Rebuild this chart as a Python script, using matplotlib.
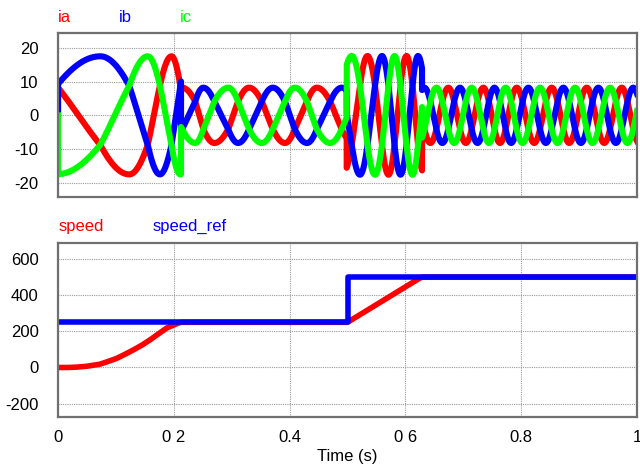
import numpy as np
import matplotlib
matplotlib.use("Agg")
import matplotlib.pyplot as plt

# ---------------- data ----------------
# electrical angle (deg) of the stator current vector at readable events
# (peaks / troughs of the phase currents), one list per operating segment
seg1_t = [0.0, 0.073, 0.123, 0.155, 0.176, 0.196, 0.2125]
seg1_deg = [62, 120, 180, 240, 300, 360, 425]
seg2_t = [0.2125, 0.237, 0.251, 0.270, 0.294, 0.311, 0.330, 0.352, 0.371,
          0.392, 0.409, 0.430, 0.447, 0.470, 0.490, 0.4986]
seg2_deg = [355, 420, 480, 540, 600, 660, 720, 780, 840, 900, 960, 1020,
            1080, 1140, 1200, 1226]
seg3_t = [0.4986, 0.5073, 0.5216, 0.5345, 0.5475, 0.5596, 0.5708, 0.5812,
          0.5915, 0.6019, 0.6123, 0.6218, 0.6287]
seg3_deg = [1288, 1320, 1380, 1440, 1500, 1560, 1620, 1680, 1740, 1800,
            1860, 1920, 1958]
seg4_t = [0.6287, 0.6741, 0.7346, 0.7922, 0.8527, 0.9131, 0.9736, 1.0]
seg4_deg = [1896, 2160, 2520, 2880, 3240, 3600, 3960, 4119]
seg_amp = [17.5, 8.2, 17.6, 8.2]          # current amplitude per segment (A)

speed_t = [0, 0.016, 0.032, 0.05, 0.072, 0.086, 0.101, 0.115, 0.130, 0.145,
           0.159, 0.173, 0.188, 0.208, 0.213, 0.5, 0.501, 0.625, 0.63, 1.0]
speed_v = [0, 0, 2, 7, 18, 33, 50, 72, 97, 124, 153, 185, 219, 246, 250,
           250, 252, 495, 500, 500]
speed_ref_t = [0, 0.5, 0.5, 1.0]
speed_ref_v = [250, 250, 500, 500]

current_labels = ["ia", "ib", "ic"]
speed_labels = ["speed", "speed_ref"]
x_ticks = [0, 0.2, 0.4, 0.6, 0.8, 1.0]
x_ticklabels = ["0", "0 2", "0.4", "0 6", "0.8", "1"]
y1_ticks = [-20, -10, 0, 10, 20]
y2_ticks = [-200, 0, 200, 400, 600]

# ---------------- build currents ----------------
segs = [(seg1_t, seg1_deg), (seg2_t, seg2_deg), (seg3_t, seg3_deg), (seg4_t, seg4_deg)]
tt = [np.array([0.0])]
ia = [np.array([0.0])]
ib = [np.array([0.0])]
ic = [np.array([0.0])]
for (st, sd), amp in zip(segs, seg_amp):
    ts = np.linspace(st[0], st[-1], 3000)
    th = np.deg2rad(np.interp(ts, st, sd))
    tt.append(ts)
    ia.append(amp * np.cos(th))
    ib.append(amp * np.cos(th - 2 * np.pi / 3))
    ic.append(amp * np.cos(th + 2 * np.pi / 3))
tt = np.concatenate(tt); ia = np.concatenate(ia)
ib = np.concatenate(ib); ic = np.concatenate(ic)

# ---------------- figure ----------------
plt.rcParams['font.family'] = ['Liberation Sans', 'DejaVu Sans']
fig = plt.figure(figsize=(6.4, 4.66), dpi=100)
ax1 = fig.add_axes([58 / 640, 1 - 197 / 466, 579 / 640, 164 / 466])
ax2 = fig.add_axes([58 / 640, 1 - 417 / 466, 579 / 640, 174 / 466])

RED, BLUE, GREEN = "#ff0000", "#0000ff", "#00ff00"
lw1 = 4.4
lw2 = 4.0
ax1.plot(tt, ia, color=RED, lw=lw1, solid_joinstyle='round')
ax1.plot(tt, ib, color=BLUE, lw=lw1, solid_joinstyle='round')
ax1.plot(tt, ic, color=GREEN, lw=lw1, solid_joinstyle='round')
ax2.plot(speed_t, speed_v, color=RED, lw=lw2)
ax2.plot(speed_ref_t, speed_ref_v, color=BLUE, lw=lw2)

ax1.set_ylim(-24.2, 24.4)
ax2.set_ylim(-274, 689)
for ax, yt in ((ax1, y1_ticks), (ax2, y2_ticks)):
    ax.set_xlim(0, 1)
    ax.set_xticks(x_ticks)
    ax.set_yticks(yt)
    ax.set_yticklabels([str(v) for v in yt])
    ax.grid(True, color="#9a9a9a", lw=0.8, ls=(0, (1, 1)))
    ax.tick_params(length=0, labelsize=12, colors="black")
    ax.tick_params(axis='y', pad=14)
    ax.tick_params(axis='x', pad=9)
    for s in ax.spines.values():
        s.set_color("#707070")
        s.set_linewidth(1.6)
        s.set_zorder(5)
ax1.set_xticklabels([])
ax2.set_xticklabels(x_ticklabels)
ax2.set_xlabel("Time (s)", fontsize=12, labelpad=3)

# series labels
for lab, col, x in zip(current_labels, [RED, BLUE, GREEN], [58, 119, 180]):
    fig.text(x / 640, 1 - 21.7 / 466, lab, color=col, fontsize=12, va='baseline')
for lab, col, x in zip(speed_labels, [RED, BLUE], [59, 153]):
    fig.text(x / 640, 1 - 230.7 / 466, lab, color=col, fontsize=12, va='baseline')

fig.savefig("out.png", dpi=100)
